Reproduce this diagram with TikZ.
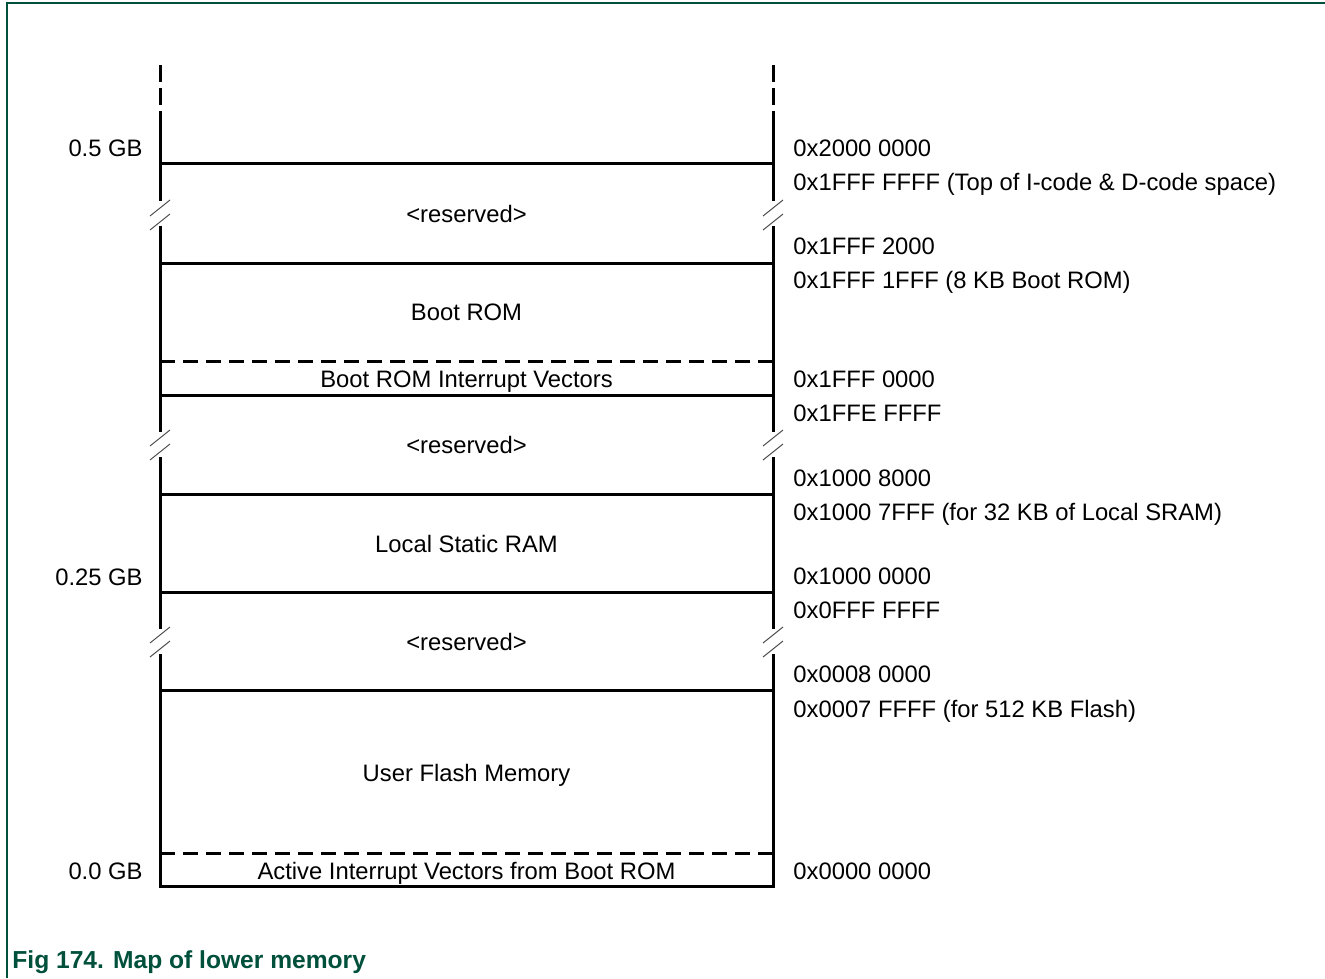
\documentclass[tikz,border=0pt]{standalone}
\usepackage{fontspec}
\setmainfont{Liberation Sans}
\definecolor{figgreen}{RGB}{0,80,60}
\begin{document}
\begin{tikzpicture}[x=0.5pt,y=-0.5pt,
    mem/.style={line width=1.5pt, line cap=rect},
    memdash/.style={line width=1.5pt, dash pattern=on 7.5pt off 4pt},
    topdash/.style={line width=1.5pt, dash pattern=on 8.5pt off 3pt},
    brk/.style={line width=0.5pt, black!70},
    lbl/.style={inner sep=0pt, font=\fontsize{11.9}{14}\selectfont}]
% 画布范围
\useasboundingbox (0,0) rectangle (1325,978);
\draw[figgreen, line width=1pt] (7,978) -- (7,3) -- (1325,3);

% 左右竖线 + 断裂符号
\foreach \xx in {160,773}{
    \draw[topdash] (\xx,65) -- (\xx,113);
    \draw[mem] (\xx,113) -- (\xx,200);
    \draw[mem] (\xx,228) -- (\xx,430);
    \draw[mem] (\xx,458) -- (\xx,627);
    \draw[mem] (\xx,655) -- (\xx,886);
    \foreach \yy in {200,430,627}{
        \draw[brk] (\xx-10,\yy+16) -- (\xx+10,\yy);
        \draw[brk] (\xx-10,\yy+30) -- (\xx+10,\yy+14);
    }
}

% 分隔线
\foreach \yy in {164,264,395,494,592,690,886}
    \draw[mem] (160,\yy) -- (773,\yy);
\foreach \yy in {361,853}
    \draw[memdash] (160,\yy) -- (773,\yy);

% 区域名称
\foreach \yy/\txt [count=\i] in {223/{<reserved>}, 321/{Boot ROM},
        387/{Boot ROM Interrupt Vectors}, 453/{<reserved>},
        552/{Local Static RAM}, 650/{<reserved>},
        781/{User Flash Memory}, 879/{Active Interrupt Vectors from Boot ROM}}
    \node[lbl, anchor=base] (reg\i) at (466.5,\yy) {\txt};

% 左侧容量
\foreach \yy/\txt [count=\i] in {157/{0.5 GB}, 585/{0.25 GB}, 879/{0.0 GB}}
    \node[lbl, anchor=base east] (gb\i) at (143,\yy) {\txt};

% 右侧地址
\foreach \yy/\txt [count=\i] in {157/{0x2000 0000},
        191/{0x1FFF FFFF (Top of I-code \& D-code space)},
        255/{0x1FFF 2000}, 289/{0x1FFF 1FFF (8 KB Boot ROM)},
        387/{0x1FFF 0000}, 421/{0x1FFE FFFF},
        486/{0x1000 8000}, 520/{0x1000 7FFF (for 32 KB of Local SRAM)},
        584/{0x1000 0000}, 618/{0x0FFF FFFF},
        682/{0x0008 0000}, 717/{0x0007 FFFF (for 512 KB Flash)},
        879/{0x0000 0000}}
    \node[lbl, anchor=base west] (adr\i) at (793,\yy) {\txt};

% 图题
\node[anchor=base west, inner sep=0pt, text=figgreen,
    font=\bfseries\fontsize{12.3}{15}\selectfont] (cap) at (12,968)
    {Fig 174. Map of lower memory};
\end{tikzpicture}
\end{document}
